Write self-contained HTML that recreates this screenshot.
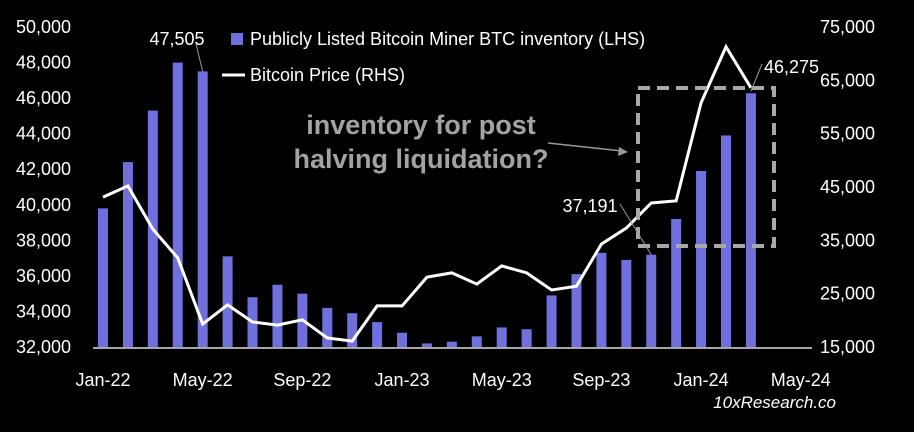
<!DOCTYPE html>
<html><head><meta charset="utf-8"><style>
html,body{margin:0;padding:0;background:#000;}
svg{display:block;font-family:"Liberation Sans",sans-serif;}
</style></head><body>
<svg id="chart" width="914" height="432">
<rect width="914" height="432" fill="#000"/>
</svg>
<script>
const months=["Jan-22","Feb-22","Mar-22","Apr-22","May-22","Jun-22","Jul-22","Aug-22","Sep-22","Oct-22","Nov-22","Dec-22","Jan-23","Feb-23","Mar-23","Apr-23","May-23","Jun-23","Jul-23","Aug-23","Sep-23","Oct-23","Nov-23","Dec-23","Jan-24","Feb-24","Mar-24"];
const inventory=[39800,42400,45300,48000,47505,37100,34800,35500,35000,34200,33900,33400,32800,32200,32300,32600,33100,33000,34900,36100,37300,36900,37191,39200,41900,43900,46275];
const price=[43100,45200,37100,31700,19300,22900,19700,19100,20100,16700,16100,22700,22700,28100,28900,26800,30200,28900,25700,26400,34300,37300,42000,42400,60800,71300,63600];
const leftTicks=[32000,34000,36000,38000,40000,42000,44000,46000,48000,50000];
const rightTicks=[15000,25000,35000,45000,55000,65000,75000];
const xTickLabels=["Jan-22","May-22","Sep-22","Jan-23","May-23","Sep-23","Jan-24","May-24"];
const xTickIndex=[0,4,8,12,16,20,24,28];

const svg=document.getElementById('chart');
const NS="http://www.w3.org/2000/svg";
const plotTop=27,plotBot=347;
const xOf=i=>103+i*24.92;
const yL=v=>plotBot-(v-32000)/(50000-32000)*(plotBot-plotTop);
const yR=v=>plotBot-(v-15000)/(75000-15000)*(plotBot-plotTop);
function mk(tag,attrs,parent){const e=document.createElementNS(NS,tag);for(const k in attrs)e.setAttribute(k,attrs[k]);(parent||svg).appendChild(e);return e;}
function txt(s,attrs){const e=mk('text',attrs);e.textContent=s;return e;}
const fmt=v=>v.toLocaleString('en-US');

leftTicks.forEach(v=>{const t=txt(fmt(v),{x:71,y:yL(v)+6,fill:'#fff','font-size':18,'text-anchor':'end'});

});
rightTicks.forEach(v=>{const t=txt(fmt(v),{x:820,y:yR(v)+6,fill:'#fff','font-size':18});

});
xTickLabels.forEach((s,k)=>{const t=txt(s,{x:xOf(xTickIndex[k]),y:386,fill:'#fff','font-size':18,'text-anchor':'middle'});

});

inventory.forEach((v,i)=>{const r=mk('rect',{x:xOf(i)-5,y:yL(v),width:10,height:plotBot-yL(v),fill:'#7070dd'});

});
const ax=mk('line',{x1:93,x2:812,y1:plotBot+1,y2:plotBot+1,stroke:'#ddd','stroke-width':1.5});



const pl=mk('polyline',{points:price.map((v,i)=>xOf(i)+','+yR(v)).join(' '),fill:'none',stroke:'#fff','stroke-width':3,'stroke-linejoin':'miter'});



const box=mk('rect',{x:638,y:88,width:136,height:158,fill:'none',stroke:'#a8a8a8','stroke-width':4,'stroke-dasharray':'12,7'});



function lbl(s,x,y,lx1,ly1,lx2,ly2,anchor,name){
 const l=mk('polyline',{points:`${lx1},${ly1} ${lx2},${ly2}`,fill:'none',stroke:'#999','stroke-width':1});
 
 
 const t=txt(s,{x:x,y:y,fill:'#fff','font-size':18,'text-anchor':anchor});
 
 
}
lbl(fmt(inventory[4]),177,45,196,44,xOf(4),yL(inventory[4]),'middle','label-may-22');
lbl(fmt(inventory[22]),590,212,620,204,xOf(22),yL(inventory[22]),'middle','label-nov-23');
lbl(fmt(inventory[26]),764,73,762,64,xOf(26),yL(inventory[26])-2,'start','label-mar-24');

const a1=txt('inventory for post',{x:421,y:134,fill:'#a3a3a3','font-size':27,'font-weight':'bold','text-anchor':'middle'});


const a2=txt('halving liquidation?',{x:421,y:168,fill:'#a3a3a3','font-size':27,'font-weight':'bold','text-anchor':'middle'});


const ar=mk('line',{x1:548,y1:143,x2:622,y2:151,stroke:'#999','stroke-width':1.5});


const ah=mk('polygon',{points:'628,152 619,147 618,156',fill:'#999'});



const ls=mk('rect',{x:231,y:33,width:12,height:12,fill:'#7070dd'});


const lt=txt('Publicly Listed Bitcoin Miner BTC inventory (LHS)',{x:250,y:45,fill:'#fff','font-size':18});


const ll=mk('line',{x1:222,x2:245,y1:75,y2:75,stroke:'#fff','stroke-width':3});


const lt2=txt('Bitcoin Price (RHS)',{x:250,y:81,fill:'#fff','font-size':18});



const wm=txt('10xResearch.co',{x:836,y:408,fill:'#fff','font-size':17,'font-style':'italic','text-anchor':'end'});


</script>
</body></html>
